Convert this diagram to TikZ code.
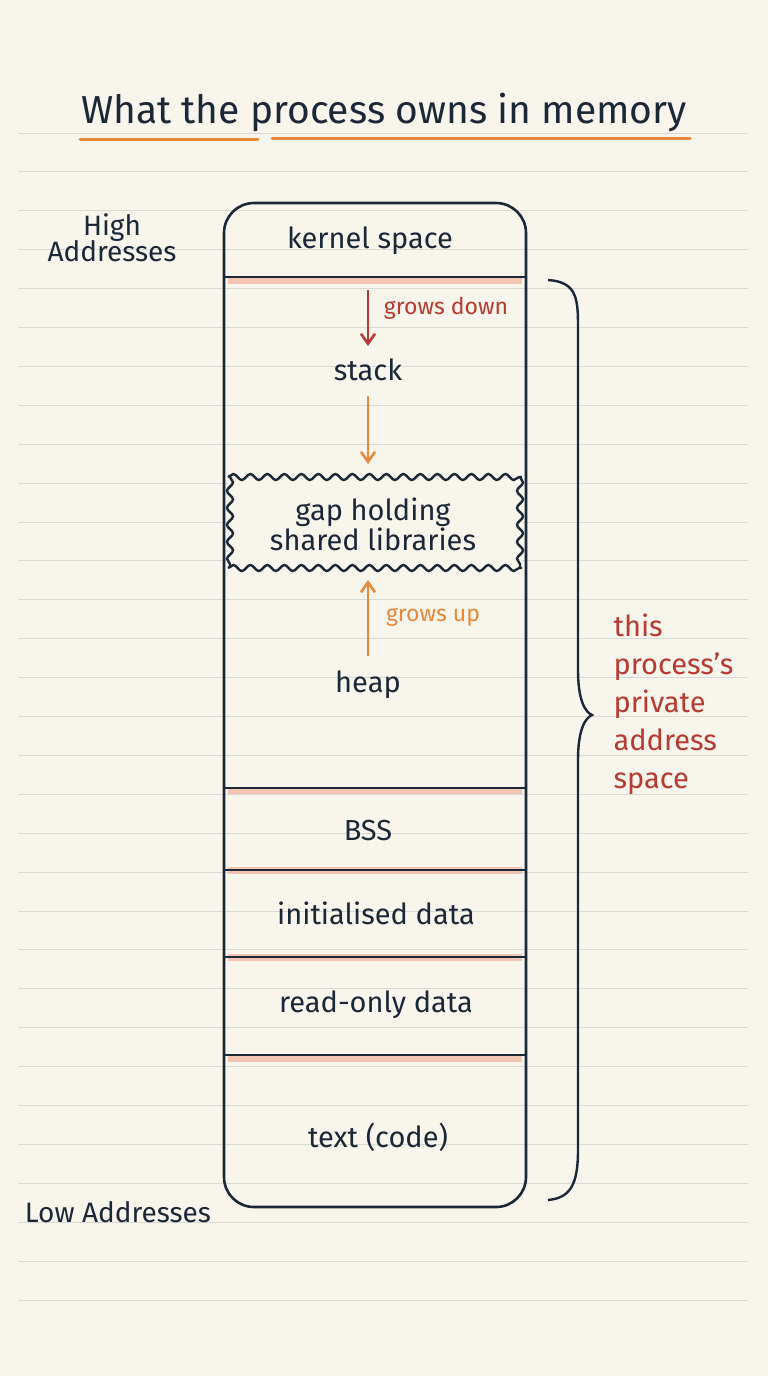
\documentclass[tikz,border=0pt]{standalone}
\usepackage{fontspec}
\setmainfont{Fira Sans}
\usetikzlibrary{decorations.pathmorphing,decorations.pathreplacing,arrows.meta}
\definecolor{paper}{HTML}{F8F5EC}
\definecolor{rule}{HTML}{D9D9D6}
\definecolor{ink}{HTML}{1C2738}
\definecolor{org}{HTML}{E8883A}
\definecolor{redb}{HTML}{B83A30}
\definecolor{pink}{HTML}{F2B8A4}
\begin{document}
\begin{tikzpicture}[x=1pt,y=-1pt,
  lab/.style={font=\fontsize{29}{32}\selectfont,text=ink},
  side/.style={font=\fontsize{28}{30}\selectfont,text=ink},
  note/.style={font=\fontsize{23}{26}\selectfont},
  div/.style={line width=2.6pt,draw=ink},
  hl/.style={line width=7pt,draw=pink,opacity=0.8},
  arr/.style={line width=2.6pt,-{Straight Barb[length=10pt,width=14pt]}}]
\fill[paper] (0,0) rectangle (768,1376);
\useasboundingbox (0,0) rectangle (768,1376);
\foreach \i in {0,...,30} \draw[rule,line width=1pt] (18,{133+\i*38.9}) -- (748,{133+\i*38.9});
\node[font=\fontsize{39}{42}\selectfont,text=ink] (title) at (384,112) {What the process owns in memory};
\draw[org,line width=3pt,line cap=round] (80,139) -- (258,139);
\draw[org,line width=3pt,line cap=round] (272,138) -- (690,138);
\foreach \y in {280,790,870,957,1058} \draw[hl] (228,\y) -- (522,\y);
\draw[ink,line width=2.6pt,rounded corners=30] (224,203) rectangle (526,1207);
\foreach \y in {277,788,870,957,1055} \draw[div] (224,\y) -- (526,\y);
\fill[paper] (228,477) rectangle (522,568);
\draw[ink,line width=2.4pt,decorate,decoration={snake,amplitude=3pt,segment length=17pt}] (228,477) -- (522,477);
\draw[ink,line width=2.4pt,decorate,decoration={snake,amplitude=3pt,segment length=17pt}] (228,568) -- (522,568);
\draw[ink,line width=2.4pt,decorate,decoration={snake,amplitude=3pt,segment length=17pt}] (230,477) -- (230,568);
\draw[ink,line width=2.4pt,decorate,decoration={snake,amplitude=3pt,segment length=17pt}] (520,477) -- (520,568);
\node[lab,align=center] (gap) at (373,524) {gap holding\\[-2pt]shared libraries};
\node[lab] (kern) at (370,241) {kernel space};
\node[lab] (stack) at (368,370) {stack};
\node[lab] (heap) at (368,685) {heap};
\node[lab] (bss) at (368,830) {BSS};
\node[lab] (init) at (376,913) {initialised data};
\node[lab] (ro) at (376,1005) {read-only data};
\node[lab] (text) at (378,1137) {text (code)};
\coordinate (d1) at (368,290); \coordinate (d2) at (368,346);
\draw[arr,redb] (d1) -- (d2);
\node[note,text=redb] (gd) at (446,308) {grows down};
\coordinate (o1) at (368,396); \coordinate (o2) at (368,464);
\draw[arr,org] (o1) -- (o2);
\coordinate (u1) at (368,656); \coordinate (u2) at (368,580);
\draw[arr,org] (u1) -- (u2);
\node[note,text=org] (gu) at (433,617) {grows up};
\node[side,align=center] (high) at (112,238) {High\\[-4pt]Addresses};
\node[side] (low) at (118,1212) {Low Addresses};
\draw[ink,line width=2.4pt] (548,280) .. controls (578,282) and (578,300) .. (578,330)
  -- (578,670) .. controls (578,700) and (585,712) .. (592,715)
  .. controls (585,718) and (578,730) .. (578,760)
  -- (578,1150) .. controls (578,1185) and (570,1198) .. (548,1200);
\node[font=\fontsize{29}{38}\selectfont,text=redb,align=left,anchor=north west] (pas) at (610,610) {this\\process's\\private\\address\\space};
\end{tikzpicture}
\end{document}
